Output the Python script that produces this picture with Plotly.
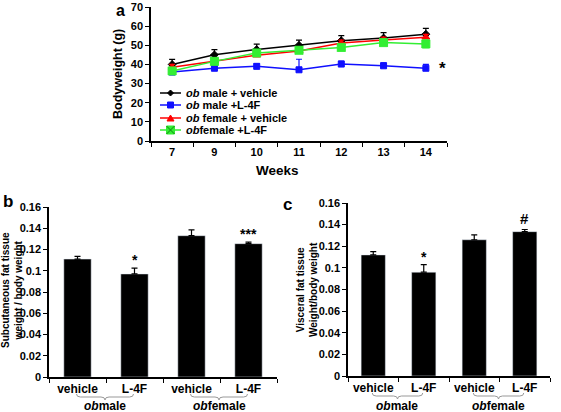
import plotly.graph_objects as go

# ---------------- data ----------------
weeks = ['7', '9', '10', '11', '12', '13', '14']
male_vehicle = [40.0, 45.0, 47.8, 50.0, 52.4, 53.8, 55.8]
male_vehicle_err = [2.6, 2.7, 2.8, 2.7, 2.6, 2.8, 3.0]
male_l4f = [36.0, 38.0, 39.0, 37.2, 40.2, 39.3, 38.0]
male_l4f_err = [1.0, 1.2, 1.3, 5.5, 1.5, 1.5, 2.0]
female_vehicle = [38.5, 41.8, 44.8, 47.0, 51.2, 52.8, 54.2]
female_vehicle_err = [1.5, 1.5, 1.5, 1.5, 1.5, 1.5, 1.5]
female_l4f = [36.6, 41.6, 46.0, 47.4, 48.9, 51.4, 50.7]
female_l4f_err = [1.5, 1.5, 1.8, 1.5, 1.5, 1.5, 2.0]

bar_labels = ['vehicle', 'L-4F', 'vehicle', 'L-4F']
group_labels = ['<i>ob</i>male', '<i>ob</i>female']
subcut = [0.111, 0.097, 0.133, 0.1255]
subcut_err = [0.0025, 0.0055, 0.0055, 0.0015]
subcut_sig = ['', '*', '', '***']
visceral = [0.112, 0.096, 0.126, 0.1335]
visceral_err = [0.003, 0.007, 0.0045, 0.002]
visceral_sig = ['', '*', '', '#']

W, H = 561, 412
FONT = 'Liberation Sans, Arial, sans-serif'


def px(x):
    return x / W


def py(y):
    return 1 - y / H


dom_a_x = [px(151), px(447)]
dom_a_y = [py(141), py(7)]
dom_b_x = [px(49), px(277)]
dom_b_y = [py(377), py(207)]
dom_c_x = [px(348), px(550)]
dom_c_y = [py(376), py(203)]

fig = go.Figure()

series = [
    ('<b><i>ob</i> male + vehicle</b>', male_vehicle, male_vehicle_err, '#000000', 'diamond', 6, False),
    ('<b><i>ob</i> male +L-4F</b>', male_l4f, male_l4f_err, '#1010ff', 'square', 6, False),
    ('<b><i>ob</i> female + vehicle</b>', female_vehicle, female_vehicle_err, '#ff0000', 'triangle-up', 7, False),
    ('<b><i>ob</i>female +L-4F</b>', female_l4f, female_l4f_err, '#33ee33', 'square-x', 8, True),
]
for name, vals, err, col, sym, size, sym_err in series:
    fig.add_trace(go.Scatter(
        x=weeks, y=vals, mode='lines+markers', name=name,
        line=dict(color=col, width=1.5),
        marker=dict(color=col, symbol=sym, size=size, line=dict(color=col, width=1)),
        error_y=dict(type='data', array=err,
                     arrayminus=err if sym_err else [0] * len(err),
                     symmetric=False, color=col, thickness=1.2, width=3),
        xaxis='x', yaxis='y', showlegend=False))

fig.add_trace(go.Bar(
    x=list(range(len(subcut))), y=subcut, marker_color='black', width=0.48,
    error_y=dict(type='data', array=subcut_err, arrayminus=[0] * 4, symmetric=False,
                 color='black', thickness=1.2, width=3),
    xaxis='x2', yaxis='y2', showlegend=False))
fig.add_trace(go.Bar(
    x=list(range(len(visceral))), y=visceral, marker_color='black', width=0.48,
    error_y=dict(type='data', array=visceral_err, arrayminus=[0] * 4, symmetric=False,
                 color='black', thickness=1.2, width=3),
    xaxis='x3', yaxis='y3', showlegend=False))

tickfont = dict(family=FONT, size=11, color='black', weight='bold')
catfont = dict(family=FONT, size=12, color='black', weight='bold')
axcommon = dict(showline=True, linecolor='black', linewidth=1.5, showgrid=False, automargin=False,
                zeroline=False, ticks='outside', ticklen=4, tickcolor='black', tickwidth=1,
                ticklabeloverflow='allow')
xcat = dict(showline=True, linecolor='black', linewidth=1.5, showgrid=False, zeroline=False,
            automargin=False, ticks='', ticklabeloverflow='allow',
            minor=dict(tickvals=[-0.5, 0.5, 1.5, 2.5, 3.5], ticks='outside',
                       ticklen=4, tickcolor='black'))

fig.update_layout(
    width=W, height=H, margin=dict(l=0, r=0, t=0, b=0, autoexpand=False), autosize=False,
    paper_bgcolor='white', plot_bgcolor='white', showlegend=False,
    font=dict(family=FONT, color='black'),
    xaxis=dict(domain=dom_a_x, anchor='y', type='category', range=[-0.5, 6.5],
               tickson='boundaries', tickfont=tickfont, **axcommon),
    yaxis=dict(domain=dom_a_y, anchor='x', range=[0, 70], dtick=10,
               tickfont=tickfont, **axcommon),
    xaxis2=dict(domain=dom_b_x, anchor='y2', range=[-0.5, 3.5],
                tickvals=list(range(4)), ticktext=bar_labels, tickfont=catfont, **xcat),
    yaxis2=dict(domain=dom_b_y, anchor='x2', range=[0, 0.16], dtick=0.02,
                tickformat='~g', tickfont=tickfont, **axcommon),
    xaxis3=dict(domain=dom_c_x, anchor='y3', range=[-0.5, 3.5],
                tickvals=list(range(4)), ticktext=bar_labels, tickfont=catfont, **xcat),
    yaxis3=dict(domain=dom_c_y, anchor='x3', range=[0, 0.16], dtick=0.02,
                tickformat='~g', tickfont=tickfont, **axcommon),
)

ann = []
shapes = []


def text(x, y, s, size, **kw):
    d = dict(x=x, y=y, xref='paper', yref='paper', text=s, showarrow=False,
             xanchor='center', yanchor='middle',
             font=dict(family=FONT, size=size, color='black', weight='bold'))
    d.update(kw)
    ann.append(d)


# panel labels
text(px(120), py(11), 'a', 16)
text(px(8), py(201), 'b', 17)
text(px(287), py(204), 'c', 17)

# axis titles
text(px(118), py(74), 'Bodyweight (g)', 12.5, textangle=-90)
text(px(277), py(170), 'Weeks', 13.5)
text(px(12), py(290), 'Subcutaneous fat tissue<br>weight / body weight', 10, textangle=-90)
text(px(307), py(290), 'Visceral fat tissue<br>Weight/body weight', 10, textangle=-90)

# significance in panel a
ann.append(dict(x=px(442), y=male_l4f[-1], xref='paper', yref='y', text='*', showarrow=False,
                xanchor='center', yanchor='middle',
                font=dict(family=FONT, size=17, color='black', weight='bold')))

# significance in panels b, c
for i, s in enumerate(subcut_sig):
    if s:
        ann.append(dict(x=i, y=subcut[i] + subcut_err[i], xref='x2', yref='y2', text=s,
                        showarrow=False, xanchor='center', yanchor='bottom', yshift=-2,
                        font=dict(family=FONT, size=14, color='black', weight='bold')))
for i, s in enumerate(visceral_sig):
    if s:
        ann.append(dict(x=i, y=visceral[i] + visceral_err[i], xref='x3', yref='y3', text=s,
                        showarrow=False, xanchor='center', yanchor='bottom',
                        yshift=0 if s == '#' else -2,
                        font=dict(family=FONT, size=14 if s == '*' else 15, color='black', weight='bold')))


def cat_px(dom, idx, n=4):
    return dom[0] + (idx + 0.5) / n * (dom[1] - dom[0])


# group labels and braces
for dom, ytop in ((dom_b_x, 394), (dom_c_x, 393)):
    for g, lab in enumerate(group_labels):
        x0 = cat_px(dom, 2 * g) - px(1)
        x1 = cat_px(dom, 2 * g + 1) + px(-1)
        xm = (x0 + x1) / 2
        text(xm, py(406), lab, 12)
        yt, ym, yb = py(ytop), py(ytop + 3), py(ytop + 6)
        d = px(4)
        path = (f'M {x0},{yt} Q {x0},{ym} {x0 + d},{ym} L {xm - d},{ym} '
                f'Q {xm},{ym} {xm},{yb} Q {xm},{ym} {xm + d},{ym} L {x1 - d},{ym} '
                f'Q {x1},{ym} {x1},{yt}')
        shapes.append(dict(type='path', path=path, xref='paper', yref='paper',
                           line=dict(color='#999999', width=1)))

# manual legend for panel a
leg_y = [93, 105, 118, 130]
for (name, vals, err, col, sym, size, _), ly in zip(series, leg_y):
    shapes.append(dict(type='line', xref='paper', yref='paper', x0=px(160), x1=px(181),
                       y0=py(ly), y1=py(ly), line=dict(color=col, width=1.5)))
    cx, cy = 170.5, ly
    if sym == 'diamond':
        p = f'M {px(cx-3)},{py(cy)} L {px(cx)},{py(cy-3)} L {px(cx+3)},{py(cy)} L {px(cx)},{py(cy+3)} Z'
        shapes.append(dict(type='path', path=p, xref='paper', yref='paper', fillcolor=col,
                           line=dict(color=col, width=1)))
    elif sym == 'square':
        shapes.append(dict(type='rect', xref='paper', yref='paper', x0=px(cx-3), x1=px(cx+3),
                           y0=py(cy+3), y1=py(cy-3), fillcolor=col, line=dict(color=col, width=1)))
    elif sym == 'triangle-up':
        p = f'M {px(cx-3.5)},{py(cy+3)} L {px(cx)},{py(cy-3)} L {px(cx+3.5)},{py(cy+3)} Z'
        shapes.append(dict(type='path', path=p, xref='paper', yref='paper', fillcolor=col,
                           line=dict(color=col, width=1)))
    else:
        shapes.append(dict(type='rect', xref='paper', yref='paper', x0=px(cx-4), x1=px(cx+4),
                           y0=py(cy+4), y1=py(cy-4), fillcolor=col, line=dict(color=col, width=1)))
        p = (f'M {px(cx-4)},{py(cy-4)} L {px(cx+4)},{py(cy+4)} '
             f'M {px(cx-4)},{py(cy+4)} L {px(cx+4)},{py(cy-4)}')
        shapes.append(dict(type='path', path=p, xref='paper', yref='paper',
                           line=dict(color='#118811', width=1)))
    text(px(184), py(ly), name, 11, xanchor='left', font=dict(family=FONT, size=11, color='black'))

fig.update_layout(annotations=ann, shapes=shapes)
fig.write_html('out.html', config={'displayModeBar': False},
               post_script="document.body.style.margin='0';document.body.style.overflow='hidden';")
